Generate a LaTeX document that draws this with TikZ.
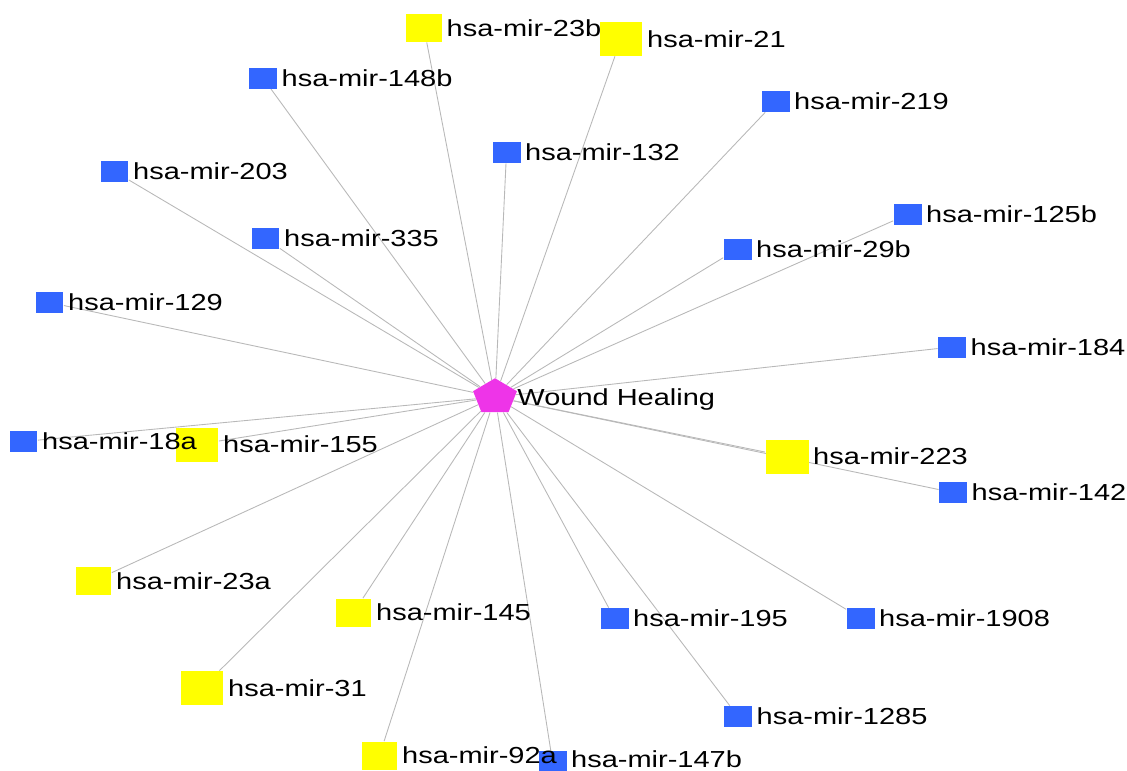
\documentclass[tikz,border=0pt]{standalone}
\usepackage{fontspec}
\setmainfont{Liberation Sans}
\usetikzlibrary{positioning,shapes.geometric,backgrounds}
\definecolor{mirblue}{RGB}{51,102,255}
\definecolor{miryellow}{RGB}{255,255,0}
\definecolor{hubpink}{RGB}{238,52,232}
\newcommand{\stretchx}[1]{\scalebox{1.25}[1]{#1}}

\begin{document}
\begin{tikzpicture}[x=0.02cm,y=-0.02cm,
	bnode/.style={rectangle,fill=mirblue,inner sep=0pt,minimum width=0.56cm,minimum height=0.42cm},
	ynode/.style={rectangle,fill=miryellow,inner sep=0pt,minimum width=0.72cm,minimum height=0.56cm},
	ybig/.style={ynode,minimum width=0.86cm,minimum height=0.68cm},
	hub/.style={regular polygon,regular polygon sides=5,fill=hubpink,inner sep=0pt,minimum size=0.75cm},
	lbl/.style={inner sep=0pt,text depth=0pt,font=\fontsize{13.2}{15}\selectfont},
	link/.style={black!28,line width=0.5pt}]
		\useasboundingbox (0,0) rectangle (1127,771);
		\clip (0,0) rectangle (1127,771);

		% hub
		\begin{scope}[shift={(495,397)},xscale=1.23]
			\draw (0,0) node [hub,transform shape] (wh) {};
		\end{scope}

		% mirnas
		\draw (424,28) node [ynode] (m23b) {};
		\draw (621,39) node [ybig] (m21) {};
		\draw (263,78) node [bnode] (m148b) {};
		\draw (775.5,101.5) node [bnode] (m219) {};
		\draw (506.5,152.5) node [bnode] (m132) {};
		\draw (114.5,171.5) node [bnode] (m203) {};
		\draw (907.5,214.5) node [bnode] (m125b) {};
		\draw (265.5,238.5) node [bnode] (m335) {};
		\draw (737.5,249) node [bnode] (m29b) {};
		\draw (49.5,302.5) node [bnode] (m129) {};
		\draw (952,347) node [bnode] (m184) {};
		\draw (23.5,441.5) node [bnode] (m18a) {};
		\draw (197,444.5) node [ybig] (m155) {};
		\draw (787,456.5) node [ybig] (m223) {};
		\draw (953,492.5) node [bnode] (m142) {};
		\draw (93.5,581) node [ynode] (m23a) {};
		\draw (353.5,612.5) node [ynode] (m145) {};
		\draw (614.5,618.5) node [bnode] (m195) {};
		\draw (860.5,618) node [bnode] (m1908) {};
		\draw (202,688) node [ybig] (m31) {};
		\draw (738,716.5) node [bnode] (m1285) {};
		\draw (379.5,755.5) node [ynode] (m92a) {};
		\draw (552.5,761.5) node [bnode] (m147b) {};

		% labels
		\node [lbl,right=0.04cm of wh] (twh) {\stretchx{Wound Healing}};
		\node [lbl,right=0.08cm of m23b] (t23b) {\stretchx{hsa-mir-23b}};
		\node [lbl,right=0.08cm of m21] (t21) {\stretchx{hsa-mir-21}};
		\node [lbl,right=0.08cm of m148b] (t148b) {\stretchx{hsa-mir-148b}};
		\node [lbl,right=0.08cm of m219] (t219) {\stretchx{hsa-mir-219}};
		\node [lbl,right=0.08cm of m132] (t132) {\stretchx{hsa-mir-132}};
		\node [lbl,right=0.08cm of m203] (t203) {\stretchx{hsa-mir-203}};
		\node [lbl,right=0.08cm of m125b] (t125b) {\stretchx{hsa-mir-125b}};
		\node [lbl,right=0.08cm of m335] (t335) {\stretchx{hsa-mir-335}};
		\node [lbl,right=0.08cm of m29b] (t29b) {\stretchx{hsa-mir-29b}};
		\node [lbl,right=0.08cm of m129] (t129) {\stretchx{hsa-mir-129}};
		\node [lbl,right=0.08cm of m184] (t184) {\stretchx{hsa-mir-184}};
		\node [lbl,right=0.08cm of m18a] (t18a) {\stretchx{hsa-mir-18a}};
		\node [lbl,right=0.08cm of m155] (t155) {\stretchx{hsa-mir-155}};
		\node [lbl,right=0.08cm of m223] (t223) {\stretchx{hsa-mir-223}};
		\node [lbl,right=0.08cm of m142] (t142) {\stretchx{hsa-mir-142}};
		\node [lbl,right=0.08cm of m23a] (t23a) {\stretchx{hsa-mir-23a}};
		\node [lbl,right=0.08cm of m145] (t145) {\stretchx{hsa-mir-145}};
		\node [lbl,right=0.08cm of m195] (t195) {\stretchx{hsa-mir-195}};
		\node [lbl,right=0.08cm of m1908] (t1908) {\stretchx{hsa-mir-1908}};
		\node [lbl,right=0.08cm of m31] (t31) {\stretchx{hsa-mir-31}};
		\node [lbl,right=0.08cm of m1285] (t1285) {\stretchx{hsa-mir-1285}};
		\node [lbl,right=0.08cm of m92a] (t92a) {\stretchx{hsa-mir-92a}};
		\node [lbl,right=0.08cm of m147b,yshift=0.05cm] (t147b) {\stretchx{hsa-mir-147b}};

		% edges
		\begin{scope}[on background layer]
			\draw [link]
				(wh) edge (m23b)
				(wh) edge (m21)
				(wh) edge (m148b)
				(wh) edge (m219)
				(wh) edge (m132)
				(wh) edge (m203)
				(wh) edge (m125b)
				(wh) edge (m335)
				(wh) edge (m29b)
				(wh) edge (m129)
				(wh) edge (m184)
				(wh) edge (m18a)
				(wh) edge (m155)
				(wh) edge (m223)
				(wh) edge (m142)
				(wh) edge (m23a)
				(wh) edge (m145)
				(wh) edge (m195)
				(wh) edge (m1908)
				(wh) edge (m31)
				(wh) edge (m1285)
				(wh) edge (m92a)
				(wh) edge (m147b)
			;
		\end{scope}
	\end{tikzpicture}
\end{document}
